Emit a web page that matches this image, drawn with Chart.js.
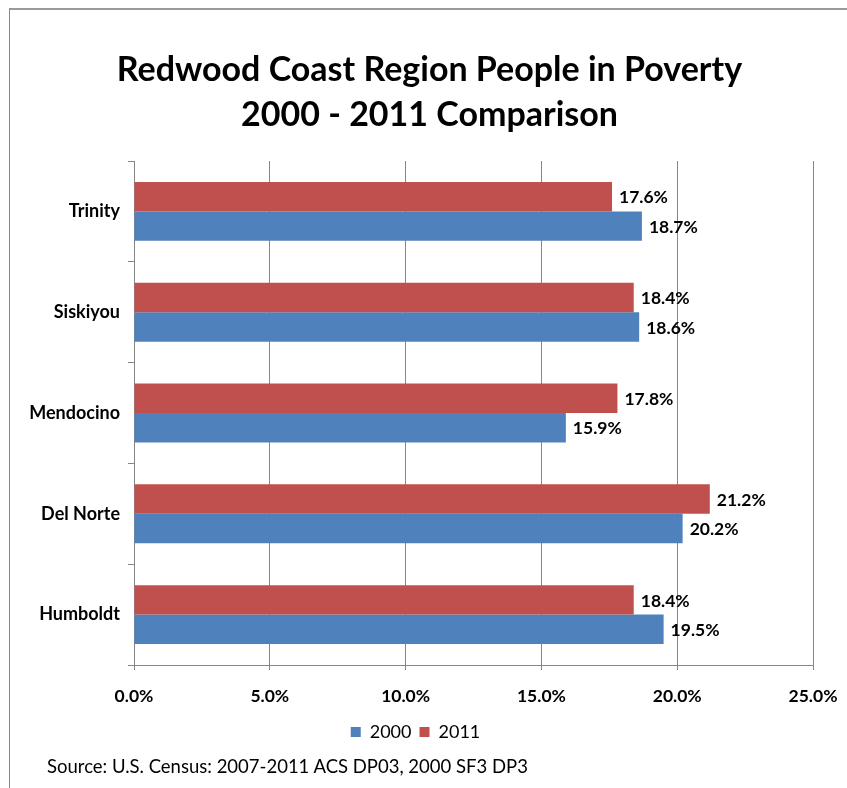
<!DOCTYPE html>
<html>
<head>
<meta charset="utf-8">
<title>Redwood Coast Region People in Poverty</title>
<script src="https://cdn.jsdelivr.net/npm/chart.js@4/dist/chart.umd.min.js"></script>
<style>
  html, body { margin: 0; padding: 0; background: #fff; overflow: hidden; }
  #wrap { position: relative; width: 847px; height: 788px; font-family: Lato, Calibri, "Noto Sans", sans-serif; color: #000; }
  #frame {
    position: absolute; left: 9px; top: 8px; width: 900px; height: 900px;
    border-top: 2px solid #9a9a9a; border-left: 1px solid #8a8a8a;
    pointer-events: none;
  }
  canvas { position: absolute; left: 0; top: 0; }
  #title {
    position: absolute; left: 46px; width: 767px; top: 45px;
    text-align: center; font-size: 34px; font-weight: 700; line-height: 45px;
  }
  #source {
    position: absolute; left: 47px; top: 755px;
    font-size: 18.5px; line-height: 22px; white-space: nowrap;
  }
</style>
</head>
<body>
<div id="wrap">
  <canvas id="povertyChart" width="847" height="788"></canvas>
  <div id="title">Redwood Coast Region People in Poverty<br>2000 - 2011 Comparison</div>
  <div id="source">Source: U.S. Census: 2007-2011 ACS DP03, 2000 SF3 DP3</div>
  <div id="frame"></div>
</div>
<script>
// Counties, top to bottom
const counties = ['Trinity', 'Siskiyou', 'Mendocino', 'Del Norte', 'Humboldt'];
// Percent of people in poverty
const poverty2011 = [17.6, 18.4, 17.8, 21.2, 18.4];
const poverty2000 = [18.7, 18.6, 15.9, 20.2, 19.5];
// X axis range and step (percent)
const xMin = 0;
const xMax = 25;
const xStep = 5;

const FONT = 'Lato, Calibri, "Noto Sans", sans-serif';
const GRID = '#868686';

// writes the value just past the end of each bar
const barValueLabels = {
    id: 'barValueLabels',
    afterDatasetsDraw(chart) {
        const ctx = chart.ctx;
        ctx.save();
        ctx.font = 'bold 17.5px ' + FONT;
        ctx.fillStyle = '#000';
        ctx.textAlign = 'left';
        ctx.textBaseline = 'middle';
        chart.data.datasets.forEach((ds, i) => {
            const meta = chart.getDatasetMeta(i);
            meta.data.forEach((bar, j) => {
                ctx.fillText(ds.data[j].toFixed(1) + '%', bar.x + 7, bar.y + 1);
            });
        });
        ctx.restore();
    }
};

const ctx = document.getElementById('povertyChart').getContext('2d');
new Chart(ctx, {
    type: 'bar',
    data: {
        labels: counties,
        datasets: [
            {
                label: '2011',
                data: poverty2011,
                backgroundColor: '#C0504D',
            },
            {
                label: '2000',
                data: poverty2000,
                backgroundColor: '#4F81BD',
            }
        ]
    },
    options: {
        indexAxis: 'y',
        responsive: false,
        animation: false,
        events: [],
        barPercentage: 1,
        categoryPercentage: 0.584,
        layout: {
            padding: { top: 161, left: 18, right: 34, bottom: 37 }
        },
        plugins: {
            legend: {
                position: 'bottom',
                reverse: true,
                labels: {
                    boxWidth: 10,
                    boxHeight: 10,
                    padding: 8,
                    color: '#000',
                    font: { family: FONT, size: 18 }
                }
            },
            tooltip: { enabled: false }
        },
        scales: {
            x: {
                min: xMin,
                max: xMax,
                ticks: {
                    stepSize: xStep,
                    padding: 16,
                    color: '#000',
                    font: { family: FONT, size: 17.5, weight: 'bold' },
                    callback: v => v.toFixed(1) + '%'
                },
                grid: { color: GRID, tickLength: 5 },
                border: { color: GRID },
                afterFit(scale) {
                    // keep the gap under the labels tight and the end labels in the margins
                    scale.height -= 8;
                    scale.paddingLeft = 0;
                    scale.paddingRight = 20;
                }
            },
            y: {
                ticks: {
                    padding: 8,
                    color: '#000',
                    font: { family: FONT, size: 18, weight: 'bold' }
                },
                grid: {
                    color: GRID,
                    offset: true,
                    drawOnChartArea: false,
                    tickLength: 6
                },
                border: { color: GRID },
                afterFit(scale) { scale.width = 116; }
            }
        }
    },
    plugins: [barValueLabels]
});
</script>
</body>
</html>
